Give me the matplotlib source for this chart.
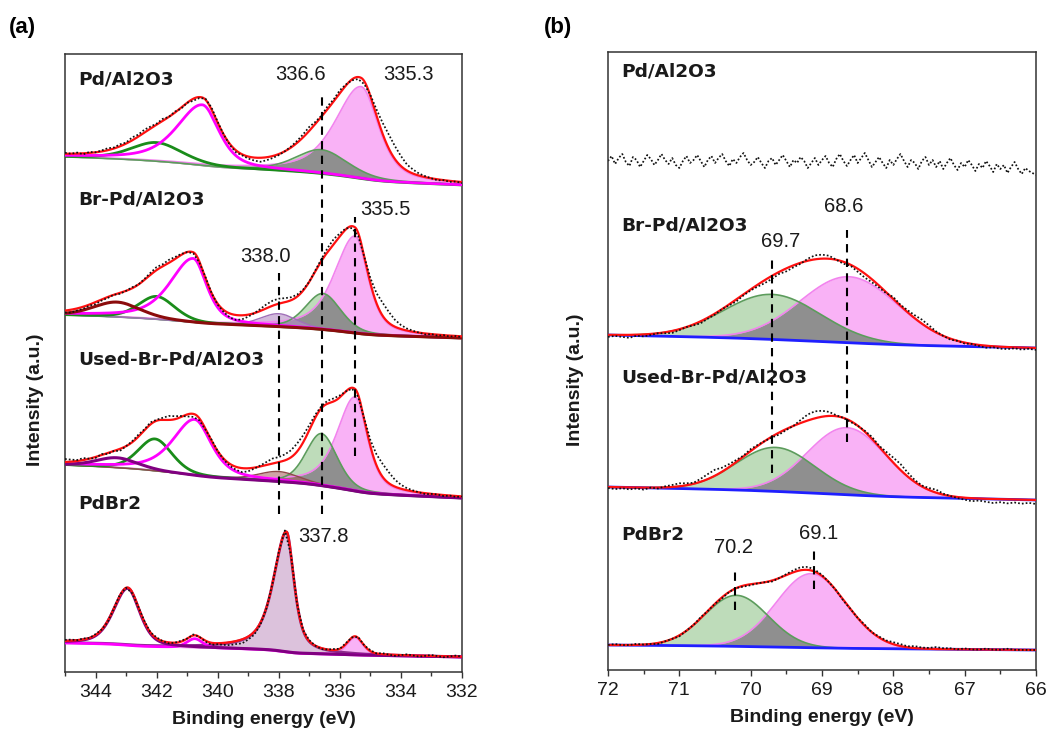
import numpy as np
import matplotlib
matplotlib.use("Agg")
import matplotlib.pyplot as plt
from matplotlib.ticker import MultipleLocator

# ===================== DATA =====================
# Panel (a): Pd 3d.  Peak parameters
# centre (eV), height (a.u.), FWHM on low-BE side, FWHM on high-BE side, Lorentz fraction, component kind
a1_name = "Pd/Al2O3"
a1_centers = [335.3, 336.6, 340.5, 342.0]
a1_heights = [92, 24, 61, 19]
a1_wlo = [1.35, 2.0, 1.3, 2.0]
a1_whi = [2.0, 2.0, 2.0, 2.0]
a1_eta = [0.6, 0.4, 0.6, 0.4]
a1_kind = ["pink", "greenfill", "magline", "greenline"]
a1_base = [515, 487]          # background level at 345 eV and at 332 eV
a1_resid = [1, 0, 1, -1, 1, 0, 1, 2, 1, 2,
            1, 3, 2, 3, 2, 1, 2, 0, 1, -1,
            0, -2, -1, 1, 2, 1, 0, -1, -2, -1,
            -2, -3, -4, -3, -2, -1, 0, 1, 2, 3,
            4, 2, 1, 3, 2, 3, 1, -1, -2, -3,
            1, 6, 11, 14, 13, 10, 6, 4, 2, 1,
            0, -1, 0, -1, 0, -1]

a2_name = "Br-Pd/Al2O3"
a2_centers = [335.5, 336.55, 338.0, 340.8, 342.0, 343.3]
a2_heights = [97, 36, 13, 64, 23, 15]
a2_wlo = [1.0, 1.35, 1.4, 1.05, 1.4, 1.8]
a2_whi = [1.6, 1.35, 1.4, 1.8, 1.4, 1.8]
a2_eta = [0.6, 0.3, 0.3, 0.6, 0.3, 0.3]
a2_kind = ["pink", "greenfill", "purplefill", "magline", "greenline", "brownline"]
a2_base = [357, 334]
a2_resid = [-2, -3, -2, -2, -1, -2, -1, -1, 0, -1,
            0, 1, 0, 1, 2, 3, 2, 3, 2, 1,
            0, -1, -1, 1, 0, -1, -2, -4, -5, -4,
            -2, 0, 2, 4, 5, 5, 4, 3, 2, 1,
            0, 1, 2, 4, 5, 3, 1, -2, -3, 0,
            5, 10, 13, 11, 7, 4, 2, 1, 0, -1,
            0, -1, 0, -1, 0, -1]

a3_name = "Used-Br-Pd/Al2O3"
a3_centers = [335.5, 336.6, 338.0, 340.75, 342.05, 343.3]
a3_heights = [94, 52, 10, 56, 32, 10]
a3_wlo = [0.95, 1.2, 1.6, 1.3, 1.3, 1.6]
a3_whi = [1.4, 1.2, 1.6, 1.7, 1.3, 1.6]
a3_eta = [0.6, 0.3, 0.3, 0.6, 0.3, 0.3]
a3_kind = ["pink", "greenfill", "brownfill", "magline", "greenline", "purpleline"]
a3_base = [207, 174]
a3_resid = [3, 2, 1, 2, 0, -1, 1, -1, 0, -2,
            0, 1, 2, 1, 2, 1, 2, 4, 3, 1,
            -2, -3, -2, -1, 1, 0, -1, -2, -3, -4,
            -3, -1, 1, 3, 5, 5, 6, 7, 8, 7,
            5, 3, 2, 3, 3, 2, 0, -1, -2, 1,
            6, 11, 13, 11, 7, 4, 2, 1, 0, -1,
            0, 0, -1, 0, -1, 0]

a4_name = "PdBr2"
a4_centers = [337.75, 342.95, 340.75, 335.5]
a4_heights = [120, 57, 9, 17]
a4_wlo = [0.6, 0.95, 0.6, 0.6]
a4_whi = [1.0, 1.1, 0.6, 0.6]
a4_eta = [0.7, 0.45, 0.3, 0.3]
a4_kind = ["purplebig", "purpleline", "magline", "pink"]
a4_base = [29, 15]
a4_resid = [1, 1, 0, 1, 0, 1, 0, -1, 0, 1,
            0, -1, 0, 1, 0, 1, 0, -1, 0, 1,
            0, 1, 0, -1, -2, -1, -2, -3, -3, -4,
            -3, -3, -2, -1, 0, 1, 2, 0, -1, 0,
            1, 0, -1, 0, 1, 0, 1, 0, 1, 0,
            1, 0, 1, 0, -1, 0, 1, 0, -1, 0,
            1, 0, -1, 0, 1, 0]

a_ticks = [344, 342, 340, 338, 336, 334, 332]
a_peak_labels = ["336.6", "335.3", "335.5", "338.0", "337.8"]
a_peak_label_x = [337.3, 333.75, 334.5, 338.44, 336.54]
a_peak_label_y = [592, 592, 457, 410, 130]
a_dash_x = [336.6, 335.5, 338.0]
a_dash_top = [580, 455, 399]
a_dash_bottom = [158, 216, 158]
a_name_y = [587, 468, 307, 163]

# Panel (b): Br 3d
b1_name = "Pd/Al2O3"
b1_raw = [509, 514, 506, 512, 516, 508, 504, 513, 510, 503,
          509, 515, 511, 505, 510, 516, 510, 506, 512, 505,
          502, 509, 514, 507, 510, 515, 509, 503, 510, 514,
          507, 512, 516, 509, 504, 511, 507, 513, 517, 510,
          505, 508, 513, 507, 502, 509, 512, 505, 510, 515,
          509, 503, 510, 507, 513, 509, 502, 507, 512, 505,
          510, 514, 507, 503, 511, 516, 509, 504, 510, 515,
          507, 512, 517, 510, 503, 508, 513, 507, 502, 510,
          505, 511, 516, 509, 503, 510, 507, 501, 509, 513,
          505, 510, 503, 509, 501, 507, 512, 505, 500, 507,
          503, 510, 505, 499, 506, 502, 509, 504, 498, 506,
          501, 505, 497, 503, 508, 501, 496, 502, 499, 497,
          495]

b2_name = "Br-Pd/Al2O3"
b2_centers = [69.7, 68.62]
b2_heights = [45, 66]
b2_w = [1.6, 1.6]
b2_kind = ["greenfill", "pink"]
b2_base = [335, 322]
b2_resid = [-2, -1, -2, -3, -1, -2, -1, 0, -1, -2,
            -1, 0, -1, -2, -1, -1, 0, -1, -2, -1,
            -1, -2, -3, -3, -2, -3, -2, -1, 2, 4,
            4, 3, 0, -2, -1, -3, -4, -3, -2, -1,
            2, 1, 2, 3, 4, 3, 1, 0, -1, 0,
            -1, 0, -1, -2, -1, -2, -2, -1, -2, -1,
            -2]

b3_name = "Used-Br-Pd/Al2O3"
b3_centers = [69.65, 68.65]
b3_heights = [44, 67]
b3_w = [1.3, 1.3]
b3_kind = ["greenfill", "pink"]
b3_base = [183, 170]
b3_resid = [-1, -2, -1, -2, -1, -2, 0, -1, 1, 2,
            3, 2, 1, 3, 5, 6, 4, 3, 2, 1,
            2, 1, 0, -1, -2, -1, 0, 3, 6, 7,
            6, 4, 1, 0, -1, 0, 1, 2, 1, 3,
            5, 6, 4, 2, 1, 2, 3, 1, 0, -1,
            -2, -3, -2, -3, -4, -3, -4, -3, -4, -3,
            -4]

b4_name = "PdBr2"
b4_centers = [70.2, 69.15]
b4_heights = [51, 74]
b4_w = [1.05, 1.15]
b4_kind = ["greenfill", "pink"]
b4_base = [25, 20]
b4_resid = [0, 1, 0, 0, 1, 0, 0, -1, 0, 0,
            -1, 0, 0, 1, 0, 0, -1, 0, 0, -1,
            -1, 0, 0, -1, 0, 1, 2, 3, 3, 2,
            1, 0, 0, -1, 0, 0, 1, 0, 1, 1,
            2, 2, 1, 2, 1, 1, 2, 1, 1, 0,
            1, 0, 0, 1, 0, 0, 1, 0, 0, 0,
            0]

b_ticks = [72, 71, 70, 69, 68, 67, 66]
b_peak_labels = ["69.7", "68.6", "70.2", "69.1"]
b_peak_label_x = [69.58, 68.69, 70.24, 69.05]
b_peak_label_y = [423, 458, 117, 131]
b_dash_x = [69.7, 68.65, 70.22, 69.11]
b_dash_top = [412, 440, 102, 123]
b_dash_bottom = [197, 228, 60, 81]
b_name_y = [594, 440, 287, 130]

# ===================== STYLE =====================
STY = {
    "pink":       dict(fill="#f9b2f6", line="#f283ee", lw=1.2, z=2.2),
    "greenfill":  dict(fill="#bedcba", line="#5c9c5c", lw=1.2, z=2.3),
    "purplefill": dict(fill="#b58dc6", alpha=0.6, line="#a070b8", lw=1.0, z=2.4),
    "brownfill":  dict(fill="#a85a5a", alpha=0.55, line="#8e4a4a", lw=1.0, z=2.4),
    "purplebig":  dict(fill="#dcc2dc", line="#8b2a8b", lw=2.0, z=3.0),
    "magline":    dict(line="#ff00ff", lw=2.0, z=3.2),
    "greenline":  dict(line="#1a8c1a", lw=2.0, z=3.1),
    "brownline":  dict(line="#8b0c0c", lw=2.2, z=3.3),
    "purpleline": dict(line="#800080", lw=2.2, z=3.3),
}
OVERLAP = "#8f8f8f"
TICKFONT = "Liberation Sans"
RAWSTYLE = dict(ls=(0, (1, 1.2)), color="#111111", lw=1.25)


def pv(E, c, h, wlo, whi, eta):
    w = np.where(E < c, wlo, whi)
    d = (E - c) / w
    g = np.exp(-4 * np.log(2) * d ** 2)
    l = 1.0 / (1.0 + 4 * d ** 2)
    return h * (eta * l + (1 - eta) * g)


def background(E, peaks, left, right, frac):
    # E ascending; Shirley-type step mixed with a linear slope
    cum = np.concatenate([[0], np.cumsum(0.5 * (peaks[1:] + peaks[:-1]) * np.diff(E))])
    s = cum / cum[-1]
    lin = (E - E[0]) / (E[-1] - E[0])
    return right + (left - right) * (frac * s + (1 - frac) * lin)


def draw(ax, E, centers, heights, wlo, whi, eta, kinds, base_lr, resid, frac,
         base_line=None):
    comps = [pv(E, c, h, a, b, e) for c, h, a, b, e in zip(centers, heights, wlo, whi, eta)]
    tot = np.sum(comps, axis=0)
    base = background(E, tot, base_lr[0], base_lr[1], frac)
    for comp, k in zip(comps, kinds):
        st = STY[k]
        if "fill" in st:
            ax.fill_between(E, base, base + comp, color=st["fill"], alpha=st.get("alpha", 1.0),
                            lw=0, zorder=st["z"] - 1)
    if "greenfill" in kinds and "pink" in kinds:
        g = comps[kinds.index("greenfill")]
        p = comps[kinds.index("pink")]
        ax.fill_between(E, base, base + np.minimum(g, p), color=OVERLAP, lw=0, zorder=1.35)
    for comp, k in zip(comps, kinds):
        st = STY[k]
        ax.plot(E, base + comp, color=st["line"], lw=st["lw"], zorder=st["z"],
                solid_capstyle="butt")
    if base_line is not None:
        ax.plot(E, base, color=base_line, lw=2.0, zorder=3.4)
    env = base + tot
    ax.plot(E, env, color="#ff1010", lw=1.6, zorder=5)
    Er = np.linspace(E[-1], E[0], len(resid))
    ax.plot(Er, np.interp(Er, E, env) + np.array(resid), zorder=6, **RAWSTYLE)


fig = plt.figure(figsize=(10.48, 7.31), dpi=100)
W, H = 1048, 731
axa = fig.add_axes([65 / W, 1 - 672 / H, 397 / W, 618 / H])
axb = fig.add_axes([608 / W, 1 - 670 / H, 428 / W, 618 / H])

# ---------- panel (a) ----------
Ea = np.linspace(332, 345, 2601)
draw(axa, Ea, a1_centers, a1_heights, a1_wlo, a1_whi, a1_eta, a1_kind, a1_base, a1_resid, 0.5)
draw(axa, Ea, a2_centers, a2_heights, a2_wlo, a2_whi, a2_eta, a2_kind, a2_base, a2_resid, 0.5)
draw(axa, Ea, a3_centers, a3_heights, a3_wlo, a3_whi, a3_eta, a3_kind, a3_base, a3_resid, 0.5)
draw(axa, Ea, a4_centers, a4_heights, a4_wlo, a4_whi, a4_eta, a4_kind, a4_base, a4_resid, 0.5)

for x, t, b in zip(a_dash_x, a_dash_top, a_dash_bottom):
    axa.plot([x, x], [b, t], color="black", lw=1.5, ls=(0, (4, 3)), zorder=7)
for s, x, y in zip(a_peak_labels, a_peak_label_x, a_peak_label_y):
    axa.text(x, y, s, ha="center", va="baseline", fontsize=14.5, family=TICKFONT,
             color="#1a1a1a", zorder=8)
for s, y in zip([a1_name, a2_name, a3_name, a4_name], a_name_y):
    axa.text(344.57, y, s, ha="left", va="baseline", fontsize=13.3, fontweight="bold",
             family="DejaVu Sans", color="#1a1a1a", zorder=8)

axa.set_xlim(345, 332)
axa.set_ylim(0, 618)
axa.set_xticks(a_ticks)
axa.xaxis.set_minor_locator(MultipleLocator(1))

# ---------- panel (b) ----------
Eb = np.linspace(66, 72, 1201)
axb.plot(np.linspace(72, 66, len(b1_raw)), b1_raw, **RAWSTYLE)
for cen, hei, wid, kin, bas, res in [
        (b2_centers, b2_heights, b2_w, b2_kind, b2_base, b2_resid),
        (b3_centers, b3_heights, b3_w, b3_kind, b3_base, b3_resid),
        (b4_centers, b4_heights, b4_w, b4_kind, b4_base, b4_resid)]:
    draw(axb, Eb, cen, hei, wid, wid, [0.0] * len(cen), kin, bas, res, 0.3,
         base_line="#1f1fff")

for x, t, b in zip(b_dash_x, b_dash_top, b_dash_bottom):
    axb.plot([x, x], [b, t], color="black", lw=1.5, ls=(0, (4, 3)), zorder=7)
for s, x, y in zip(b_peak_labels, b_peak_label_x, b_peak_label_y):
    axb.text(x, y, s, ha="center", va="baseline", fontsize=14.5, family=TICKFONT,
             color="#1a1a1a", zorder=8)
for s, y in zip([b1_name, b2_name, b3_name, b4_name], b_name_y):
    axb.text(71.81, y, s, ha="left", va="baseline", fontsize=13.3, fontweight="bold",
             family="DejaVu Sans", color="#1a1a1a", zorder=8)

axb.set_xlim(72, 66)
axb.set_ylim(0, 618)
axb.set_xticks(b_ticks)
axb.xaxis.set_minor_locator(MultipleLocator(0.5))

for ax, ly, lx in [(axa, 0.44, -0.053), (axb, 0.47, -0.056)]:
    ax.set_yticks([])
    for sp in ax.spines.values():
        sp.set_linewidth(1.1)
        sp.set_color("#333333")
    ax.tick_params(axis="x", which="major", direction="out", length=4.5, width=1.0,
                   labelsize=14, pad=4, colors="#333333", labelcolor="#1a1a1a")
    ax.tick_params(axis="x", which="minor", direction="out", length=2.7, width=1.0,
                   colors="#333333")
    for lab in ax.get_xticklabels():
        lab.set_family(TICKFONT)
    ax.set_xlabel("Binding energy (eV)", fontsize=14, fontweight="bold", family=TICKFONT,
                  labelpad=7, color="#1a1a1a")
    ax.set_ylabel("Intensity (a.u.)", fontsize=14, fontweight="bold", family=TICKFONT,
                  color="#1a1a1a")
    ax.yaxis.set_label_coords(lx, ly)

fig.text(9 / W, 1 - 27 / H, "(a)", fontsize=16, fontweight="bold", family=TICKFONT,
         va="center", ha="left")
fig.text(544 / W, 1 - 27 / H, "(b)", fontsize=16, fontweight="bold", family=TICKFONT,
         va="center", ha="left")

fig.savefig("out.png", dpi=100)
